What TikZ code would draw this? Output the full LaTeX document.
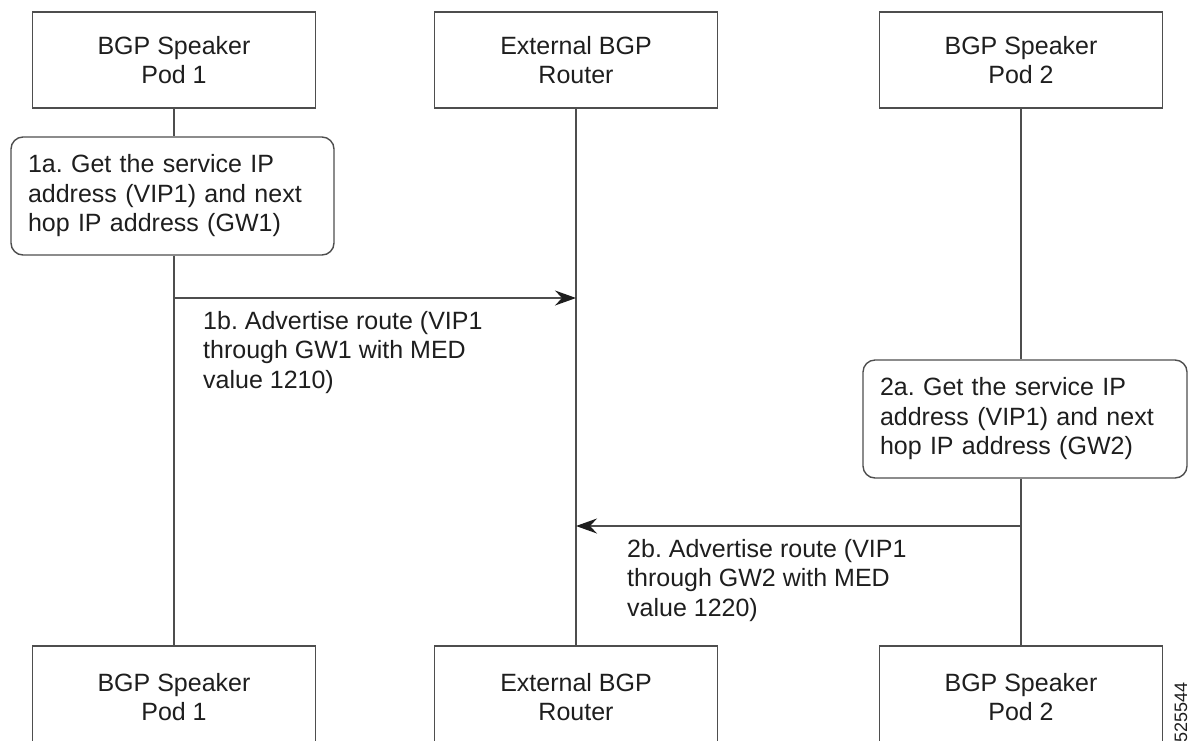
\documentclass[tikz,border=0pt]{standalone}
\usepackage{fontspec}
\setmainfont{Liberation Sans}
\usetikzlibrary{arrows.meta}
\definecolor{linegray}{HTML}{4E4E4E}
\definecolor{ink}{HTML}{1E1E1E}
\newcommand{\diafont}{\fontsize{25}{29.5}\selectfont}
\frenchspacing
\begin{document}
\begin{tikzpicture}[x=1pt,y=-1pt,
  line/.style={draw=linegray,line width=1.4pt},
  actor/.style={line,rectangle,minimum width=283pt,minimum height=96pt,
    inner sep=0pt,align=center,font=\diafont,text=ink},
  actorlow/.style={actor,minimum height=102pt},
  stepnote/.style={line,rectangle,rounded corners=12pt,inner xsep=17pt,
    inner ysep=0pt,minimum height=118pt,align=left,font=\diafont,text=ink},
  msg/.style={line,-{Stealth[length=21pt,width=15pt,inset=7pt,color=ink]}},
  msglabel/.style={anchor=north west,inner sep=0pt,align=left,font=\diafont,text=ink}]
\useasboundingbox (0,0) rectangle (1196,740);
\clip (0,0) rectangle (1196,740);

% participants, top row
\node[actor] (p1t) at (174,60) {BGP Speaker\\Pod 1};
\node[actor] (rt)  at (576,60) {External BGP\\Router};
\node[actor] (p2t) at (1021,60) {BGP Speaker\\Pod 2};

% participants, bottom row
\node[actorlow] (p1b) at (174,697) {BGP Speaker\\Pod 1};
\node[actorlow] (rb)  at (576,697) {External BGP\\Router};
\node[actorlow] (p2b) at (1021,697) {BGP Speaker\\Pod 2};

% local steps on the lifelines
\node[stepnote,text width=289pt] (s1a) at (172.5,196)
  {1a. Get the service IP\\address (VIP1) and next\\hop IP address (GW1)};
\node[stepnote,text width=290pt] (s2a) at (1025,419)
  {2a. Get the service IP\\address (VIP1) and next\\hop IP address (GW2)};

% lifelines
\draw[line] (p1t.south) -- (p1t.south |- s1a.north);
\draw[line] (p1t.south |- s1a.south) -- (p1b.north);
\draw[line] (rt.south) -- (rb.north);
\draw[line] (p2t.south) -- (p2t.south |- s2a.north);
\draw[line] (p2t.south |- s2a.south) -- (p2b.north);

% messages
\coordinate (m1from) at (174,298);
\coordinate (m1to)   at (576,298);
\coordinate (m2from) at (1021,526);
\coordinate (m2to)   at (576,526);
\draw[msg] (m1from) -- (m1to);
\draw[msg] (m2from) -- (m2to);

\node[msglabel] (l1b) at (203,311)
  {1b. Advertise route (VIP1\\through GW1 with MED\\value 1210)};
\node[msglabel] (l2b) at (627,539)
  {2b. Advertise route (VIP1\\through GW2 with MED\\value 1220)};

% figure number
\node[rotate=90,inner sep=0pt,font=\fontsize{18}{18}\selectfont,text=ink] (fig) at (1181,712) {525544};
\end{tikzpicture}
\end{document}
